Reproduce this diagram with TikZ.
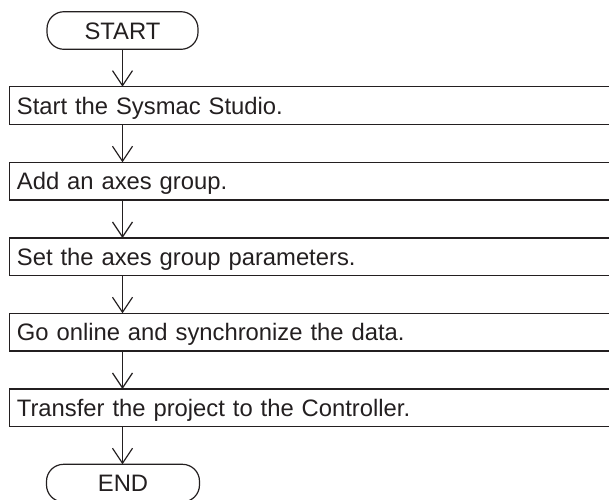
\documentclass[tikz,border=0pt]{standalone}
\usepackage{fontspec}
\setmainfont{Liberation Sans}
\usetikzlibrary{arrows.meta}
\definecolor{ink}{HTML}{231F20}
\begin{document}
\begin{tikzpicture}[x=1pt,y=-1pt,
  every node/.style={font=\fontsize{23.8}{28}\selectfont, text=ink},
  terminal/.style={draw=ink, line width=1.2pt, rectangle, rounded corners=17pt,
    minimum width=151pt, minimum height=37.6pt, outer sep=0pt, inner sep=0pt,
    text height=17pt, text depth=0pt},
  stepbox/.style={draw=ink, line width=1.2pt, rectangle, anchor=north west,
    minimum height=37.6pt, text width=600pt, align=left, inner xsep=7.6pt,
    inner ysep=0pt, outer sep=0pt, text height=17pt, text depth=0pt},
  arr/.style={draw=ink, line width=1.2pt,
    -{Straight Barb[length=15pt,width=20pt,line width=1.2pt]}}]
\useasboundingbox (0,0) rectangle (609,499);
\clip (0,0) rectangle (609,499);
\node[terminal] (start) at (122.5,30.5) {START};
\node[stepbox] (b1) at (9.3,86.7) {Start the Sysmac Studio.};
\node[stepbox] (b2) at (9.3,162.3) {Add an axes group.};
\node[stepbox] (b3) at (9.3,238) {Set the axes group parameters.};
\node[stepbox] (b4) at (9.3,313.3) {Go online and synchronize the data.};
\node[stepbox] (b5) at (9.3,389) {Transfer the project to the Controller.};
\node[terminal, minimum width=153pt] (end) at (123,483.1) {END};
\draw[arr] (start.south) -- (start.south |- b1.north);
\draw[arr] (b1.south -| start) -- (b2.north -| start);
\draw[arr] (b2.south -| start) -- (b3.north -| start);
\draw[arr] (b3.south -| start) -- (b4.north -| start);
\draw[arr] (b4.south -| start) -- (b5.north -| start);
\draw[arr] (b5.south -| start) -- (end.north -| start);
\end{tikzpicture}
\end{document}
